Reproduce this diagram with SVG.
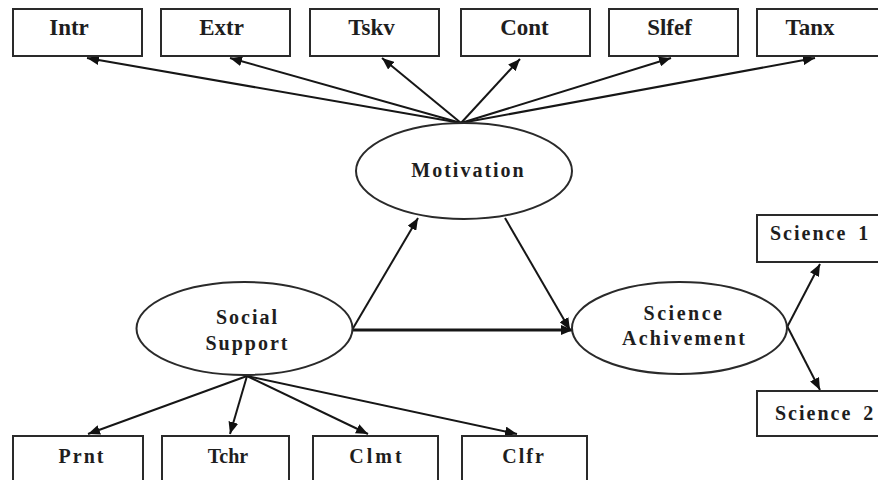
<svg xmlns="http://www.w3.org/2000/svg" width="878" height="480" viewBox="0 0 878 480">
<defs>
<marker id="arr" markerUnits="userSpaceOnUse" markerWidth="13" markerHeight="10" refX="12" refY="5" orient="auto">
<path d="M0,0 L12,5 L0,10 z" fill="#111"/>
</marker>
<style>
.box{fill:#fff;stroke:#2a2a2a;stroke-width:2}
.ell{fill:#fff;stroke:#2a2a2a;stroke-width:2}
.t{font-family:"Liberation Serif","Times New Roman",serif;font-weight:bold;fill:#1e1e1e;text-anchor:middle}
.big{font-size:23px}
.sm{font-size:20px;letter-spacing:2px}
.c line{stroke:#161616;stroke-width:2;marker-end:url(#arr)}
</style>
</defs>
<rect width="878" height="480" fill="#fff"/>
<g class="c" id="connectors">
<line x1="461" y1="123" x2="87" y2="58"/>
<line x1="461" y1="123" x2="230" y2="58"/>
<line x1="461" y1="123" x2="382" y2="58"/>
<line x1="461" y1="123" x2="520" y2="59"/>
<line x1="461" y1="123" x2="671" y2="58"/>
<line x1="461" y1="123" x2="815" y2="58"/>
<line x1="352" y1="330" x2="418" y2="218"/>
<line x1="505" y1="218" x2="570" y2="330"/>
<line x1="352" y1="330" x2="573" y2="330" style="stroke-width:3"/>
<line x1="784" y1="333" x2="820" y2="264"/>
<line x1="784" y1="320" x2="820" y2="390"/>
<line x1="247" y1="376" x2="88" y2="434"/>
<line x1="247" y1="376" x2="230" y2="434"/>
<line x1="247" y1="376" x2="368" y2="434"/>
<line x1="247" y1="376" x2="517" y2="434"/>
</g>
<g id="intr"><rect class="box" x="13" y="9" width="129" height="47"/><text class="t big" x="69" y="35">Intr</text></g>
<g id="extr"><rect class="box" x="161" y="9" width="129" height="47"/><text class="t big" x="221.5" y="35">Extr</text></g>
<g id="tskv"><rect class="box" x="310" y="9" width="129" height="47"/><text class="t big" x="371.5" y="35">Tskv</text></g>
<g id="cont"><rect class="box" x="461" y="9" width="129" height="47"/><text class="t big" x="524.5" y="35">Cont</text></g>
<g id="slfef"><rect class="box" x="609" y="9" width="129" height="47"/><text class="t big" x="669.5" y="35">Slfef</text></g>
<g id="tanx"><rect class="box" x="757" y="9" width="140" height="47"/><text class="t big" x="810" y="35">Tanx</text></g>
<g id="motivation"><ellipse class="ell" cx="464" cy="171" rx="108" ry="48"/><text class="t sm" x="468.5" y="177">Motivation</text></g>
<g id="social"><ellipse class="ell" cx="244.5" cy="328.5" rx="108" ry="46.5"/><text class="t sm" x="247.5" y="324">Social</text><text class="t sm" x="247.5" y="350">Support</text></g>
<g id="science"><ellipse class="ell" cx="679.5" cy="328" rx="107.5" ry="46"/><text class="t sm" x="684" y="320" style="letter-spacing:2.5px">Science</text><text class="t sm" x="684.5" y="345" style="letter-spacing:2.3px">Achivement</text></g>
<g id="science1"><rect class="box" x="757" y="215" width="140" height="47"/><text class="t sm" x="770" y="240" style="text-anchor:start;word-spacing:4px">Science 1</text></g>
<g id="science2"><rect class="box" x="757" y="391" width="140" height="45"/><text class="t sm" x="775" y="420" style="text-anchor:start;word-spacing:4px">Science 2</text></g>
<g id="prnt"><rect class="box" x="13" y="436" width="130" height="60"/><text class="t sm" x="82" y="463">Prnt</text></g>
<g id="tchr"><rect class="box" x="162" y="436" width="127" height="60"/><text class="t sm" x="228" y="463" style="letter-spacing:0">Tchr</text></g>
<g id="clmt"><rect class="box" x="313" y="436" width="125" height="60"/><text class="t sm" x="377" y="463" style="letter-spacing:3px">Clmt</text></g>
<g id="clfr"><rect class="box" x="462" y="436" width="125" height="60"/><text class="t sm" x="524" y="463">Clfr</text></g>
</svg>
